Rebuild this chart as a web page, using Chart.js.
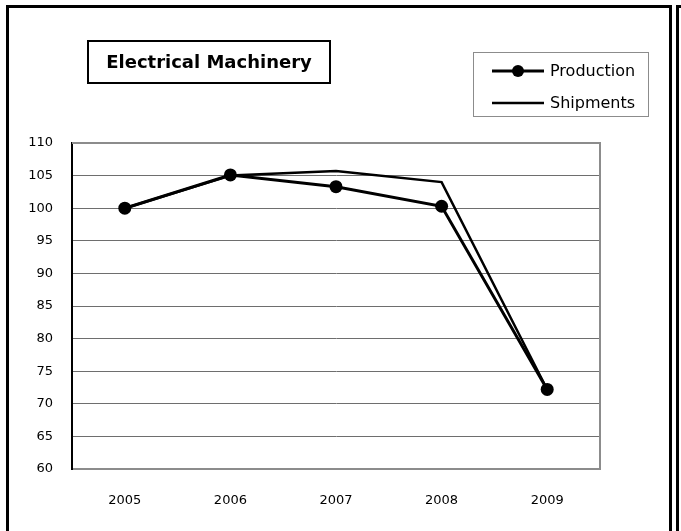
<!DOCTYPE html>
<html>
<head>
<meta charset="utf-8">
<script src="https://cdn.jsdelivr.net/npm/chart.js@4/dist/chart.umd.min.js"></script>
<style>
  html, body { margin: 0; padding: 0; background: #fff; }
  #wrap { position: relative; width: 681px; height: 531px; overflow: hidden; }
  #wrap canvas { position: absolute; left: 0; top: 0; }
  .frame { position: absolute; border: 3px solid #000; pointer-events: none; }
</style>
</head>
<body>
<div id="wrap">
  <div class="frame" style="left:6px; top:5px; width:660px; height:600px;"></div>
  <div class="frame" style="left:676px; top:5px; width:60px; height:600px;"></div>
  <canvas id="machChart" width="681" height="531"></canvas>
</div>
<script>
// data
var years = ["2005", "2006", "2007", "2008", "2009"];
var production = [100, 105.1, 103.3, 100.3, 72.2];
var shipments = [100, 105.0, 105.7, 104.0, 72.2];
var chartTitle = "Electrical Machinery";

var FONT = "'DejaVu Sans', sans-serif";

// title box + legend box drawn on the canvas
var boxesPlugin = {
  id: "boxes",
  afterDraw: function(chart) {
    var ctx = chart.ctx;
    var area = chart.chartArea;
    ctx.save();

    // right / top frame of plot area
    ctx.strokeStyle = "#8c8c8c";
    ctx.lineWidth = 2;
    ctx.beginPath();
    ctx.moveTo(area.left, area.top);
    ctx.lineTo(area.right, area.top);
    ctx.lineTo(area.right, area.bottom);
    ctx.stroke();

    // title
    ctx.strokeStyle = "#000";
    ctx.lineWidth = 2;
    ctx.strokeRect(88, 41, 242, 42);
    ctx.fillStyle = "#000";
    ctx.font = "bold 18px " + FONT;
    ctx.textAlign = "center";
    ctx.textBaseline = "middle";
    ctx.fillText(chartTitle, 209, 63);

    // legend
    ctx.strokeStyle = "#8c8c8c";
    ctx.lineWidth = 1;
    ctx.strokeRect(473.5, 52.5, 175, 64);
    var rows = [71, 103];
    ctx.font = "16px " + FONT;
    ctx.textAlign = "left";
    chart.data.datasets.forEach(function(ds, i) {
      var y = rows[i];
      ctx.strokeStyle = "#000";
      ctx.lineWidth = ds.borderWidth;
      ctx.beginPath();
      ctx.moveTo(492, y);
      ctx.lineTo(544, y);
      ctx.stroke();
      if (ds.pointRadius > 0) {
        ctx.beginPath();
        ctx.arc(518, y, 6, 0, Math.PI * 2);
        ctx.fillStyle = "#000";
        ctx.fill();
      }
      ctx.fillStyle = "#000";
      ctx.fillText(ds.label, 550, y + 1);
    });
    ctx.restore();
  }
};

new Chart("machChart", {
  type: "line",
  data: {
    labels: years,
    datasets: [{
      label: "Production",
      data: production,
      borderColor: "#000",
      backgroundColor: "#000",
      borderWidth: 3,
      pointRadius: 6.5,
      pointBackgroundColor: "#000",
      pointBorderWidth: 0,
      fill: false
    }, {
      label: "Shipments",
      data: shipments,
      borderColor: "#000",
      borderWidth: 2.5,
      pointRadius: 0,
      fill: false
    }]
  },
  options: {
    responsive: false,
    animation: false,
    layout: { padding: { left: 0, right: 81, top: 143, bottom: 0 } },
    plugins: {
      legend: { display: false },
      title: { display: false },
      tooltip: { enabled: false }
    },
    scales: {
      x: {
        offset: true,
        grid: { display: false, drawTicks: false },
        border: { color: "#8c8c8c", width: 2 },
        ticks: { color: "#000", padding: 24, font: { family: FONT, size: 13 } },
        afterFit: function(scale) { scale.height = 62; }
      },
      y: {
        min: 60,
        max: 110,
        ticks: { stepSize: 5, color: "#000", padding: 19, font: { family: FONT, size: 13 } },
        grid: { color: "#6e6e6e", lineWidth: 1, drawTicks: false },
        border: { color: "#000", width: 2 },
        afterFit: function(scale) { scale.width = 72; }
      }
    }
  },
  plugins: [boxesPlugin]
});
</script>
</body>
</html>
